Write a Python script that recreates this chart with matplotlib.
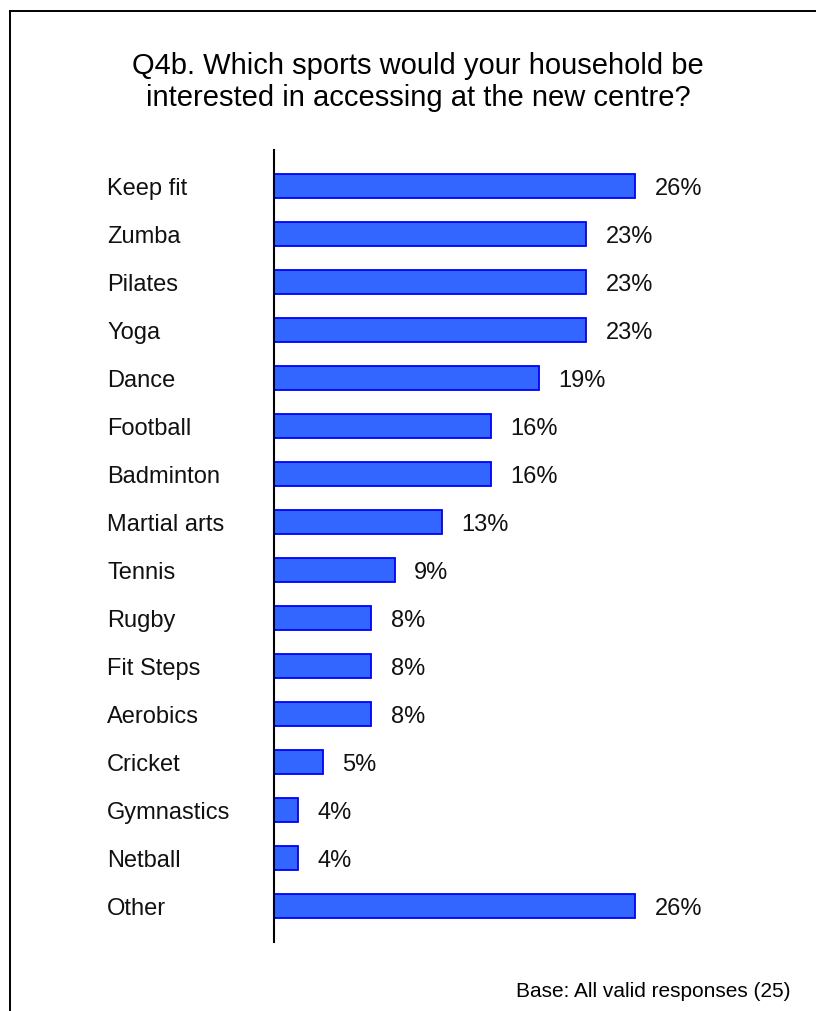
"""Survey bar chart: sports households would access at the new centre."""
import matplotlib
matplotlib.use("Agg")
import matplotlib.pyplot as plt
from matplotlib.transforms import blended_transform_factory

plt.rcParams["font.family"] = ["Liberation Sans", "DejaVu Sans"]

# ── data ─────────────────────────────────────────────────────
sports = ["Keep fit", "Zumba", "Pilates", "Yoga", "Dance", "Football",
          "Badminton", "Martial arts", "Tennis", "Rugby", "Fit Steps",
          "Aerobics", "Cricket", "Gymnastics", "Netball", "Other"]
# bar lengths as drawn (in % units)
shares = [26.0, 22.5, 22.5, 22.5, 19.1, 15.6, 15.6, 12.1, 8.7,
          7.0, 7.0, 7.0, 3.5, 1.75, 1.75, 26.0]
# value labels as printed
share_labels = ["26%", "23%", "23%", "23%", "19%", "16%", "16%", "13%",
                "9%", "8%", "8%", "8%", "5%", "4%", "4%", "26%"]

TITLE_1 = "Q4b. Which sports would your household be"
TITLE_2 = "interested in accessing at the new centre?"
BASE = "Base: All valid responses (25)"

# ── styling ──────────────────────────────────────────────────
W, H = 816, 1012
FILL = "#3366ff"
EDGE = "#0000ff"
FS_LAB = 17

fig = plt.figure(figsize=(W / 100, H / 100), dpi=100)

# axes placed in pixel terms
ax_l, ax_r, ax_t, ax_b = 274, 760, 151, 943
ax = fig.add_axes([ax_l / W, 1 - ax_b / H, (ax_r - ax_l) / W, (ax_b - ax_t) / H])

ypos = list(range(len(sports)))
ax.barh(ypos, shares, height=0.52, color=FILL, edgecolor=EDGE, linewidth=1.3,
        zorder=2)
ax.set_xlim(0, 35)
ax.set_ylim(len(sports) - 0.25, -0.75)

for side in ("top", "right", "bottom"):
    ax.spines[side].set_visible(False)
ax.spines["left"].set_linewidth(1.5)
ax.spines["left"].set_zorder(3)
ax.set_xticks([])
ax.set_yticks([])

# category labels (left aligned in figure space)
trans = blended_transform_factory(fig.transFigure, ax.transData)
half_cap = -0.358 * FS_LAB
for y, name in zip(ypos, sports):
    ax.annotate(name, xy=(107 / W, y), xycoords=trans,
                xytext=(0, half_cap), textcoords="offset points",
                ha="left", va="baseline", fontsize=FS_LAB, color="#111111",
                annotation_clip=False)

# value labels
for y, v, lab in zip(ypos, shares, share_labels):
    ax.annotate(lab, xy=(v, y), xytext=(14, half_cap), textcoords="offset points",
                ha="left", va="baseline", fontsize=FS_LAB, color="#111111",
                annotation_clip=False)

# title (two lines)
fig.text(418 / W, 1 - 74 / H, TITLE_1, ha="center", va="baseline", fontsize=21)
fig.text(418 / W, 1 - 106 / H, TITLE_2, ha="center", va="baseline", fontsize=21)

# footnote
fig.text(791 / W, 1 - 997 / H, BASE, ha="right", va="baseline", fontsize=15)

# frame around the chart (left and top edges visible)
fig.add_artist(plt.Line2D([10 / W, 10 / W], [0, 1 - 12 / H],
                          transform=fig.transFigure, color="black", lw=1.4))
fig.add_artist(plt.Line2D([10 / W, 1], [1 - 12 / H, 1 - 12 / H],
                          transform=fig.transFigure, color="black", lw=1.4))

fig.savefig("out.png", dpi=100)
plt.close(fig)
